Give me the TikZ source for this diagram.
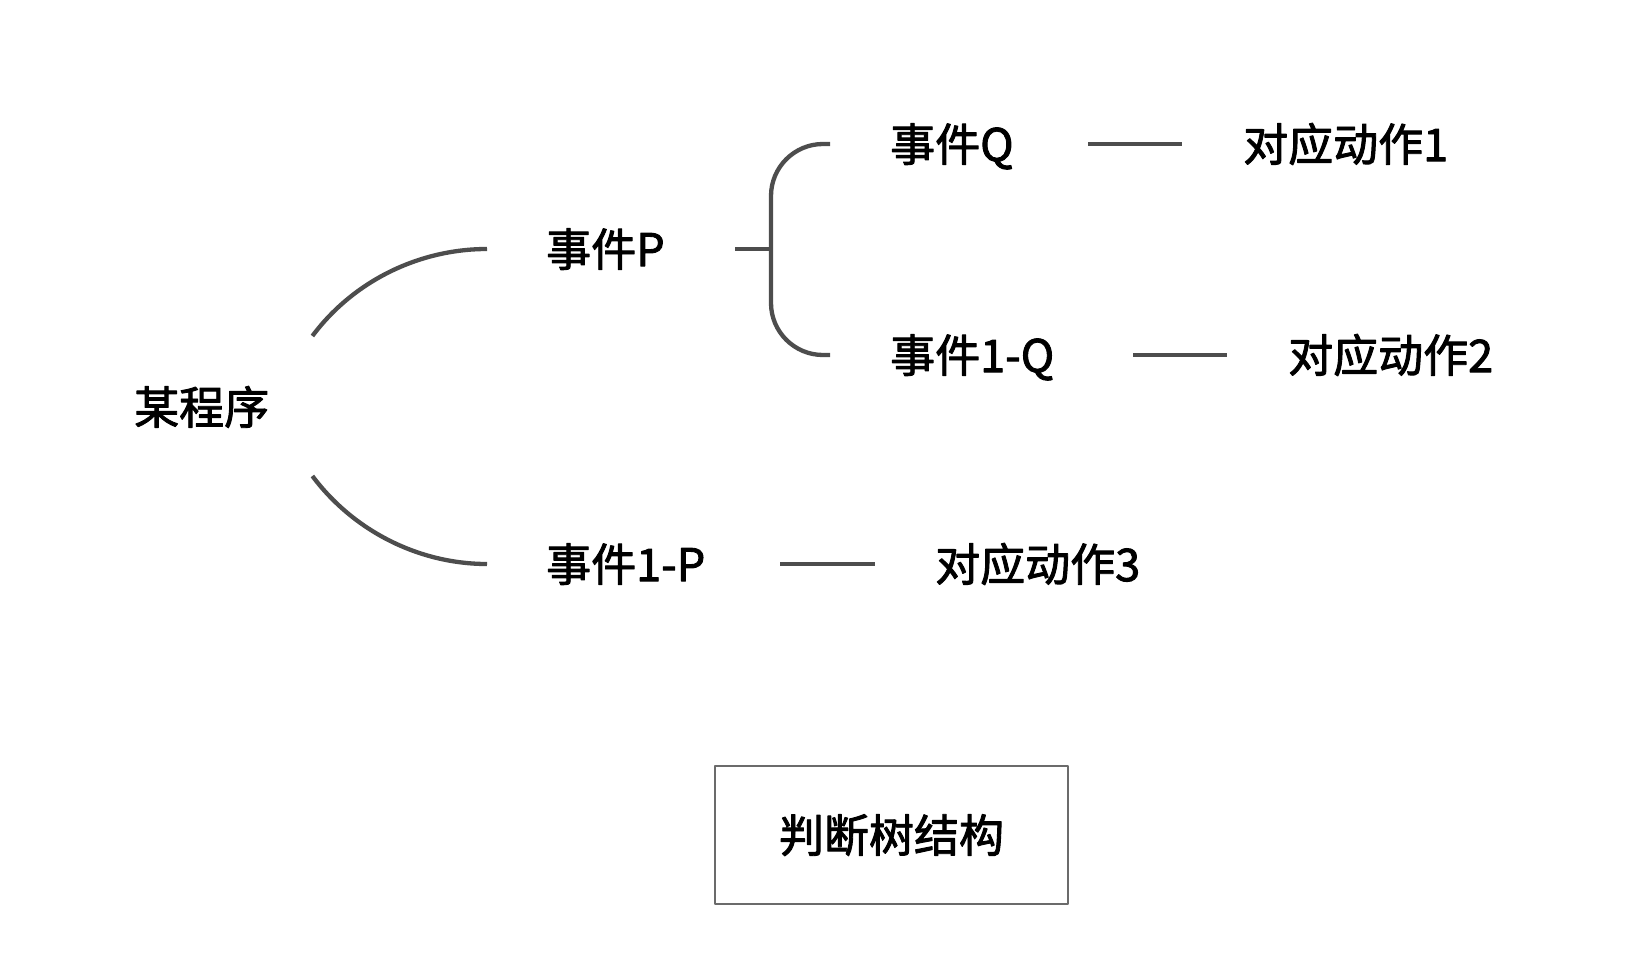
\documentclass[tikz,border=0pt]{standalone}
\usepackage{fontspec}
\newfontfamily\cjk[FakeBold=2]{Noto Sans CJK SC}
\definecolor{linegray}{HTML}{4D4D4D}
\definecolor{boxgray}{HTML}{6B6B6B}
\begin{document}
\begin{tikzpicture}[x=1pt, y=-1pt, line join=round,
	txt/.style={font=\cjk\fontsize{45}{54}\selectfont, inner sep=0pt, text height=39.6pt, text depth=5.4pt, anchor=west},
	link/.style={draw=linegray, line width=4.3pt}]
	\useasboundingbox (0,0) rectangle (1638,979);
	% texts
	\node[txt] (prog) at (134,407) {某程序};
	\node[txt] (evP) at (546,249) {事件P};
	\node[txt] (evNP) at (546,564) {事件1-P};
	\node[txt] (evQ) at (890,144) {事件Q};
	\node[txt] (evNQ) at (890,355) {事件1-Q};
	\node[txt] (act1) at (1243,144) {对应动作1};
	\node[txt] (act2) at (1288,355) {对应动作2};
	\node[txt] (act3) at (935,564) {对应动作3};
	\node[txt, anchor=center, draw=boxgray, line width=2.8pt, minimum width=353pt, minimum height=138pt] (title) at (891.5,835) {判断树结构};
	% arcs from the program
	\coordinate (a1) at ([shift={(43,-71)}]prog.east);
	\coordinate (a2) at ([shift={(43,69)}]prog.east);
	\draw[link] (a1) .. controls +(41,-55) and +(-68,0) .. ([xshift=-59pt]evP.west);
	\draw[link] (a2) .. controls +(41,55) and +(-68,0) .. ([xshift=-59pt]evNP.west);
	% brace
	\coordinate (bm) at (771,249);
	\draw[link] ([xshift=189pt]evP.west) -- (bm);
	\draw[link, rounded corners=52pt] ([xshift=-60pt]evQ.west) -| (bm) |- ([xshift=-60pt]evNQ.west);
	% actions
	\draw[link] ([xshift=198pt]evQ.west) -- ([xshift=-61pt]act1.west);
	\draw[link] ([xshift=243pt]evNQ.west) -- ([xshift=-61pt]act2.west);
	\draw[link] ([xshift=234pt]evNP.west) -- ([xshift=-60pt]act3.west);
\end{tikzpicture}
\end{document}
